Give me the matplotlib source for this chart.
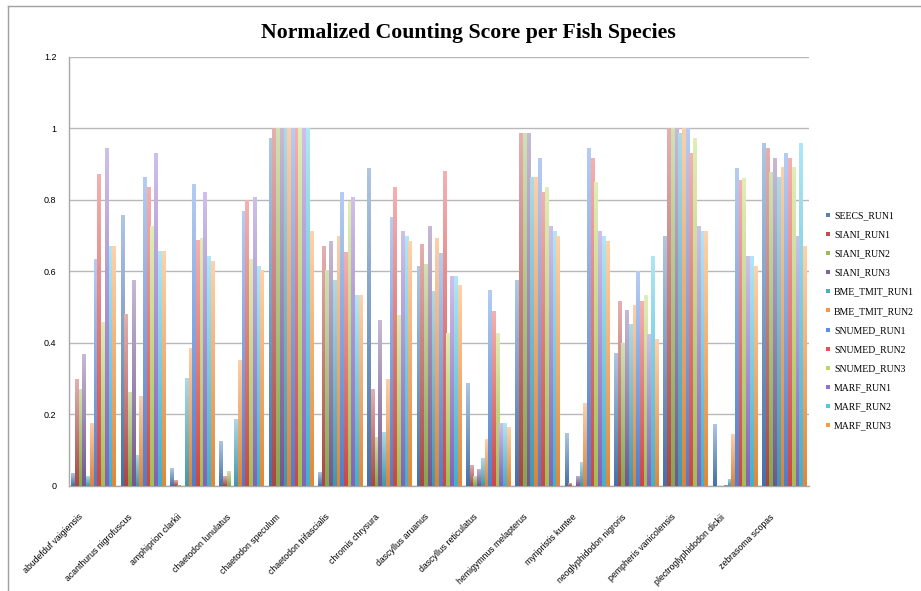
import numpy as np
import matplotlib
matplotlib.use('Agg')
import matplotlib.pyplot as plt
import matplotlib.transforms as mtransforms
from matplotlib.colors import to_rgb
from matplotlib.lines import Line2D

# Dane
species = ['abudefduf vaigiensis', 'acanthurus nigrofuscus', 'amphiprion clarkii',
           'chaetodon lunulatus', 'chaetodon speculum', 'chaetodon trifascialis',
           'chromis chrysura', 'dascyllus aruanus', 'dascyllus reticulatus',
           'hemigymnus melapterus', 'myripristis kuntee', 'neoglyphidodon nigroris',
           'pempheris vanicolensis', 'plectroglyphidodon dickii', 'zebrasoma scopas']

runs = ['SEECS_RUN1', 'SIANI_RUN1', 'SIANI_RUN2', 'SIANI_RUN3', 'BME_TMIT_RUN1',
        'BME_TMIT_RUN2', 'SNUMED_RUN1', 'SNUMED_RUN2', 'SNUMED_RUN3',
        'MARF_RUN1', 'MARF_RUN2', 'MARF_RUN3']

seecs_run1 = [0.035, 0.759, 0.049, 0.126, 0.972, 0.039, 0.890, 0.615, 0.289, 0.576, 0.149, 0.373, 0.699, 0.174, 0.958]
siani_run1 = [0.300, 0.482, 0.016, 0.027, 1.000, 0.671, 0.272, 0.676, 0.060, 0.986, 0.007, 0.517, 1.000, 0.000, 0.944]
siani_run2 = [0.270, 0.263, 0.004, 0.041, 1.000, 0.604, 0.137, 0.622, 0.028, 0.986, 0.000, 0.401, 1.000, 0.000, 0.877]
siani_run3 = [0.370, 0.576, 0.000, 0.000, 1.000, 0.685, 0.465, 0.728, 0.048, 0.986, 0.028, 0.493, 1.000, 0.002, 0.917]
bme_run1 = [0.027, 0.086, 0.303, 0.188, 1.000, 0.576, 0.151, 0.545, 0.077, 0.863, 0.067, 0.452, 0.986, 0.020, 0.863]
bme_run2 = [0.177, 0.251, 0.387, 0.352, 1.000, 0.699, 0.300, 0.695, 0.131, 0.863, 0.232, 0.506, 1.000, 0.144, 0.891]
snumed_run1 = [0.636, 0.863, 0.846, 0.768, 1.000, 0.821, 0.753, 0.651, 0.549, 0.917, 0.944, 0.601, 1.000, 0.889, 0.931]
snumed_run2 = [0.874, 0.837, 0.688, 0.800, 1.000, 0.655, 0.836, 0.880, 0.489, 0.821, 0.917, 0.517, 0.931, 0.857, 0.917]
snumed_run3 = [0.459, 0.727, 0.695, 0.636, 1.000, 0.798, 0.479, 0.429, 0.429, 0.836, 0.849, 0.534, 0.972, 0.861, 0.891]
marf_run1 = [0.944, 0.931, 0.821, 0.808, 1.000, 0.808, 0.712, 0.588, 0.177, 0.727, 0.712, 0.424, 0.727, 0.643, 0.699]
marf_run2 = [0.671, 0.657, 0.643, 0.615, 1.000, 0.534, 0.699, 0.588, 0.177, 0.712, 0.699, 0.643, 0.712, 0.643, 0.958]
marf_run3 = [0.671, 0.657, 0.630, 0.604, 0.713, 0.534, 0.685, 0.562, 0.164, 0.699, 0.685, 0.410, 0.712, 0.615, 0.671]

values = [seecs_run1, siani_run1, siani_run2, siani_run3, bme_run1, bme_run2,
          snumed_run1, snumed_run2, snumed_run3, marf_run1, marf_run2, marf_run3]

colors = ['#4F81BD', '#C0504D', '#9BBB59', '#8064A2', '#4BACC6', '#F79646',
          '#5A8FE6', '#E8504D', '#B8D860', '#9570D0', '#4CC8E8', '#FF9A40']

fig = plt.figure(figsize=(9.21, 5.91), dpi=100)
ax = fig.add_axes([0.0749, 0.1777, 0.8035, 0.7259])

x = np.arange(len(species))
n = len(runs)
w = 0.905 / n

for k in range(n):
    pos = x - 0.905 / 2 + w * (k + 0.5)
    base = np.array(to_rgb(colors[k]))
    bars = ax.bar(pos, values[k], width=w, color=colors[k], linewidth=0, zorder=2)
    # gradient od jasnego (góra) do ciemnego (dół)
    top = base * 0.45 + 0.55
    bot = base * 0.88
    t = np.linspace(0, 1, 64)[:, None]
    grad = (top[None, :] * (1 - t) + bot[None, :] * t)[:, None, :]
    for b in bars:
        h = b.get_height()
        if h <= 0:
            continue
        bx = b.get_x()
        img = ax.imshow(grad, extent=(bx, bx + b.get_width(), 0, h),
                        aspect='auto', zorder=3, interpolation='bilinear')
        img.set_clip_path(b)

ax.set_xlim(-0.5, len(species) - 0.5)
ax.set_ylim(0, 1.2)
ax.set_yticks(np.arange(0, 1.21, 0.2))
ax.set_yticklabels(['0', '0.2', '0.4', '0.6', '0.8', '1', '1.2'],
                   fontsize=6.5, family='Liberation Sans')
ax.set_xticks(x)
ax.set_xticklabels(species, rotation=45, ha='right', rotation_mode='anchor',
                   fontsize=6.3, family='Liberation Sans')
ax.tick_params(axis='both', length=0)
ax.tick_params(axis='y', pad=9)
ax.tick_params(axis='x', pad=19)
shift = mtransforms.ScaledTranslation(-0.15, 0, fig.dpi_scale_trans)
for lab in ax.get_xticklabels():
    lab.set_transform(lab.get_transform() + shift)
ax.yaxis.grid(True, color='#b8b8b8', linewidth=1.0, zorder=0)
ax.set_axisbelow(True)
for s in ['top', 'right']:
    ax.spines[s].set_visible(False)
for s in ['left', 'bottom']:
    ax.spines[s].set_color('#a8a8a8')
    ax.spines[s].set_linewidth(1.0)

fig.text(0.509, 0.945, 'Normalized Counting Score per Fish Species',
         ha='center', va='center', fontsize=15.7, fontweight='bold',
         family='Liberation Serif')

handles = [Line2D([], [], marker='s', linestyle='', markersize=3.5,
                  markerfacecolor=c, markeredgewidth=0) for c in colors]
leg = fig.legend(handles, runs, loc='center left', bbox_to_anchor=(0.892, 0.457),
                 frameon=False, prop={'family': 'Liberation Serif', 'size': 7},
                 handlelength=0.6, handletextpad=0.3, labelspacing=1.04,
                 borderaxespad=0)

# ramka wykresu
fig.add_artist(Line2D([8 / 921, 1], [1 - 6 / 591, 1 - 6 / 591],
                      transform=fig.transFigure, color='#a0a0a0', linewidth=1))
fig.add_artist(Line2D([8 / 921, 8 / 921], [0, 1 - 6 / 591],
                      transform=fig.transFigure, color='#a0a0a0', linewidth=1))

fig.savefig('out.png', dpi=100)
